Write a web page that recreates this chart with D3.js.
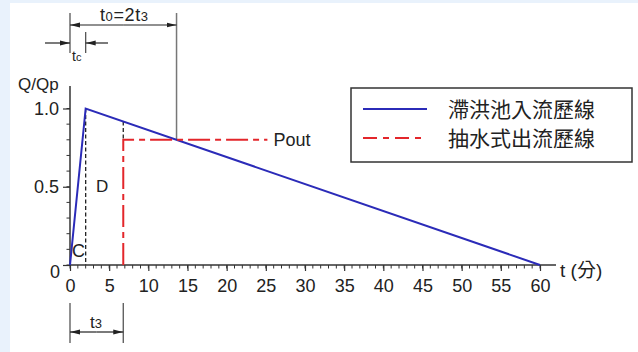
<!DOCTYPE html>
<html>
<head>
<meta charset="utf-8">
<script src="https://cdn.jsdelivr.net/npm/d3@7/dist/d3.min.js"></script>
<style>
  html, body { margin: 0; padding: 0; background: #e9f2fc; }
  svg { display: block; }
  text { font-family: "Liberation Sans", Arial, "Noto Sans CJK TC", sans-serif; fill: #222; }
  .cjk { font-family: "Noto Sans CJK TC", "Noto Sans CJK SC", sans-serif; }
</style>
</head>
<body>
<svg id="chart" width="638" height="352"></svg>
<script>
// Inflow hydrograph of the detention pond (t in minutes, Q/Qp)
const inflowT = [0, 2, 60];
const inflowQ = [0, 1.0, 0];
// Pumped outflow hydrograph (starts at t3, constant Pout)
const outflowT = [6.8, 6.8, 25.2];
const outflowQ = [0, 0.8, 0.8];
// Characteristic times
const tc = 2;
const t3 = 6.8;
const t0 = 13.6;
const qOut = 0.8;
// Axis ticks
const xTicks = [0, 5, 10, 15, 20, 25, 30, 35, 40, 45, 50, 55, 60];
const xMinor = d3.range(0, 61, 1);
const yTicks = [0, 0.5, 1.0];
const yTickLabels = ["0", "0.5", "1.0"];
const yMinor = d3.range(0, 1.01, 0.1);
// Legend
const legendLabels = ["滯洪池入流歷線", "抽水式出流歷線"];

const svg = d3.select("#chart");
svg.append("rect").attr("x", 10).attr("y", 3).attr("width", 628).attr("height", 349).attr("fill", "#fff");

const x = d3.scaleLinear().domain([0, 60]).range([70, 540]);
const y = d3.scaleLinear().domain([0, 1]).range([265, 108.5]);

const ink = "#333";
const blue = "#2b2bb8";
const red = "#e3262b";

// Arrowhead marker
const defs = svg.append("defs");
defs.append("marker").attr("id", "arr").attr("viewBox", "0 0 10 6")
  .attr("refX", 10).attr("refY", 3).attr("markerWidth", 10).attr("markerHeight", 6)
  .attr("markerUnits", "userSpaceOnUse").attr("orient", "auto")
  .append("path").attr("d", "M0,0.6L10,3L0,5.4Z").attr("fill", "#222");

// Minor ticks
svg.append("g").selectAll("line").data(xMinor).join("line")
  .attr("x1", d => x(d)).attr("x2", d => x(d))
  .attr("y1", y(0)).attr("y2", y(0) + 3.5).attr("stroke", ink).attr("stroke-width", 1);
svg.append("g").selectAll("line").data(yMinor).join("line")
  .attr("x1", x(0) - 3.5).attr("x2", x(0))
  .attr("y1", d => y(d)).attr("y2", d => y(d)).attr("stroke", ink).attr("stroke-width", 1);

// X axis
const xAxis = svg.append("g").attr("transform", `translate(0,${y(0)})`)
  .call(d3.axisBottom(x).tickValues(xTicks).tickSize(6).tickPadding(8).tickSizeOuter(0));
xAxis.select(".domain").attr("d", `M${x(0)},0H556`).attr("stroke", ink).attr("stroke-width", 1.5);
xAxis.selectAll(".tick line").attr("stroke", ink).attr("stroke-width", 1.2);
xAxis.selectAll(".tick text").attr("font-size", 18).attr("fill", "#222")
  .style("font-family", "'Liberation Sans', Arial, sans-serif");

// Y axis
const yAxis = svg.append("g").attr("transform", `translate(${x(0)},0)`)
  .call(d3.axisLeft(y).tickValues(yTicks).tickFormat((d, i) => yTickLabels[i]).tickSize(7).tickPadding(4).tickSizeOuter(0));
yAxis.select(".domain").attr("d", `M0,${y(0)}V86`).attr("stroke", ink).attr("stroke-width", 1.5);
yAxis.selectAll(".tick line").attr("stroke", ink).attr("stroke-width", 1.2);
yAxis.selectAll(".tick text").attr("font-size", 18).attr("fill", "#222")
  .style("font-family", "'Liberation Sans', Arial, sans-serif");
yAxis.selectAll(".tick").filter(d => d === 0).select("text").attr("dy", "0.7em").attr("x", -10);

// Axis titles
svg.append("text").attr("x", 18).attr("y", 90).attr("font-size", 17).text("Q/Qp");
svg.append("text").attr("x", 560).attr("y", 277).attr("font-size", 19)
  .html('t (<tspan class="cjk">分</tspan>)');

// Dashed verticals separating regions C and D
svg.append("line").attr("x1", x(tc)).attr("x2", x(tc)).attr("y1", y(1)).attr("y2", y(0))
  .attr("stroke", "#222").attr("stroke-width", 1.3).attr("stroke-dasharray", "4,2.5");
const qAtT3 = 1 - (t3 - inflowT[1]) / (inflowT[2] - inflowT[1]);
svg.append("line").attr("x1", x(t3)).attr("x2", x(t3)).attr("y1", y(qAtT3)).attr("y2", y(qOut))
  .attr("stroke", "#222").attr("stroke-width", 1.3).attr("stroke-dasharray", "4,2.5");

// t0 extension line
svg.append("line").attr("x1", x(t0)).attr("x2", x(t0)).attr("y1", 13).attr("y2", y(qOut))
  .attr("stroke", "#777").attr("stroke-width", 1.5);

// Inflow line
const line = d3.line().x(d => x(d[0])).y(d => y(d[1]));
svg.append("path").datum(d3.zip(inflowT, inflowQ)).attr("d", line)
  .attr("fill", "none").attr("stroke", blue).attr("stroke-width", 2);

// Outflow line
svg.append("path").datum(d3.zip(outflowT, outflowQ)).attr("d", line)
  .attr("fill", "none").attr("stroke", red).attr("stroke-width", 2)
  .attr("stroke-dasharray", "22,5,6,5");

// Region labels
svg.append("text").attr("x", 72).attr("y", 257).attr("font-size", 18).text("C");
svg.append("text").attr("x", 96).attr("y", 192).attr("font-size", 17).text("D");
svg.append("text").attr("x", x(outflowT[2]) + 6).attr("y", 146).attr("font-size", 18).text("Pout");

// Top dimension t0 = 2 t3
svg.append("line").attr("x1", x(0)).attr("x2", x(0)).attr("y1", 13).attr("y2", 53)
  .attr("stroke", "#555").attr("stroke-width", 1.3);
const midT0 = (x(0) + x(t0)) / 2;
svg.append("line").attr("x1", midT0).attr("x2", x(0)).attr("y1", 25).attr("y2", 25)
  .attr("stroke", "#222").attr("stroke-width", 1.2).attr("marker-end", "url(#arr)");
svg.append("line").attr("x1", midT0).attr("x2", x(t0)).attr("y1", 25).attr("y2", 25)
  .attr("stroke", "#222").attr("stroke-width", 1.2).attr("marker-end", "url(#arr)");
svg.append("text").attr("x", 100).attr("y", 21).attr("font-size", 18).attr("letter-spacing", 0.6)
  .html('t<tspan font-size="13">0</tspan>=2t<tspan font-size="13">3</tspan>');

// tc dimension
svg.append("line").attr("x1", x(tc)).attr("x2", x(tc)).attr("y1", 32).attr("y2", 53)
  .attr("stroke", "#555").attr("stroke-width", 1.3);
svg.append("line").attr("x1", 45).attr("x2", x(0)).attr("y1", 43).attr("y2", 43)
  .attr("stroke", "#222").attr("stroke-width", 1.2).attr("marker-end", "url(#arr)");
svg.append("line").attr("x1", 108).attr("x2", x(tc)).attr("y1", 43).attr("y2", 43)
  .attr("stroke", "#222").attr("stroke-width", 1.2).attr("marker-end", "url(#arr)");
svg.append("text").attr("x", 72).attr("y", 61).attr("font-size", 14)
  .html('t<tspan font-size="11">c</tspan>');

// Bottom dimension t3
[0, t3].forEach(t => svg.append("line").attr("x1", x(t)).attr("x2", x(t)).attr("y1", 303).attr("y2", 343)
  .attr("stroke", "#555").attr("stroke-width", 1.3));
const midT3 = (x(0) + x(t3)) / 2;
[0, t3].forEach(t => svg.append("line").attr("x1", midT3).attr("x2", x(t)).attr("y1", 332).attr("y2", 332)
  .attr("stroke", "#222").attr("stroke-width", 1.2).attr("marker-end", "url(#arr)"));
svg.append("text").attr("x", 90).attr("y", 328).attr("font-size", 17)
  .html('t<tspan font-size="13">3</tspan>');

// Legend
const lg = svg.append("g");
lg.append("rect").attr("x", 351).attr("y", 88).attr("width", 281).attr("height", 74)
  .attr("fill", "#fff").attr("stroke", "#333").attr("stroke-width", 1.5);
const legendStyles = [{ c: blue, dash: null, y: 109 }, { c: red, dash: "14,6,6,6", y: 138 }];
legendLabels.forEach((lab, i) => {
  const s = legendStyles[i];
  lg.append("line").attr("x1", 363).attr("x2", 427).attr("y1", s.y).attr("y2", s.y)
    .attr("stroke", s.c).attr("stroke-width", 2).attr("stroke-dasharray", s.dash);
  lg.append("text").attr("class", "cjk").attr("x", 448).attr("y", s.y + 7.5)
    .attr("font-size", 21).text(lab);
});
</script>
</body>
</html>
